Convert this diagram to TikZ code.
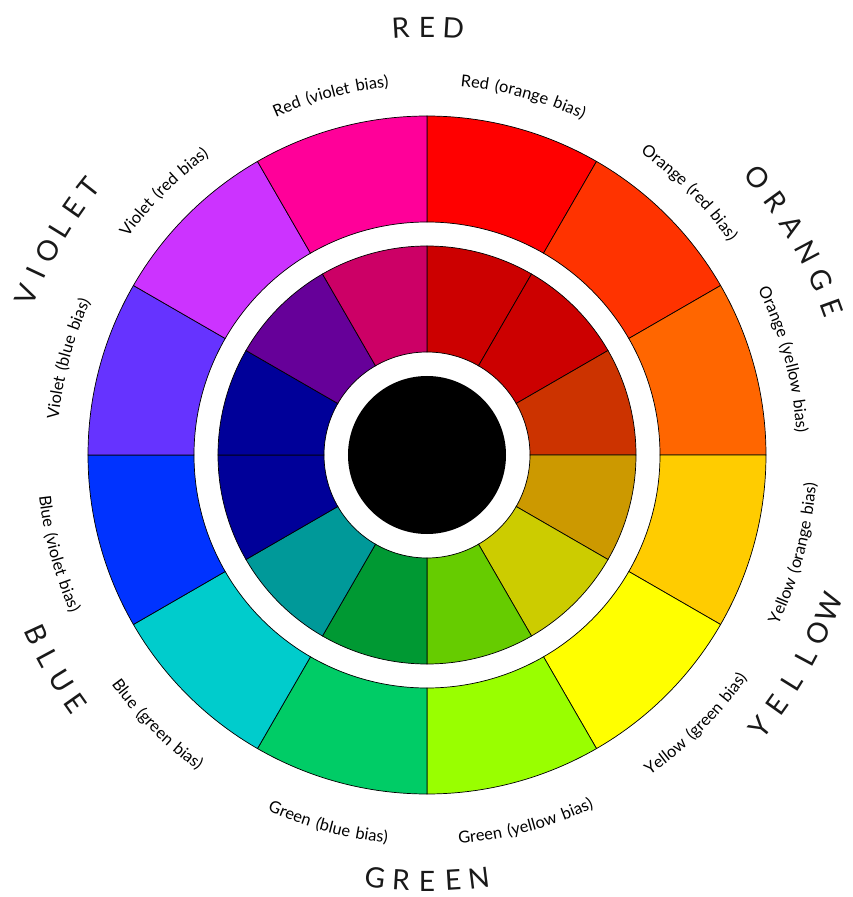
\documentclass[tikz,border=0pt]{standalone}
\usepackage{fontspec}
\setmainfont{Lato}
\newfontfamily\biasfont[LetterSpace=11]{Lato}
\usetikzlibrary{decorations.text}
% outer ring colours
\definecolor{cwRedO}{RGB}{255,0,0}
\definecolor{cwOrangeR}{RGB}{255,51,0}
\definecolor{cwOrangeY}{RGB}{255,102,0}
\definecolor{cwYellowO}{RGB}{255,204,0}
\definecolor{cwYellowG}{RGB}{255,255,0}
\definecolor{cwGreenY}{RGB}{153,255,0}
\definecolor{cwGreenB}{RGB}{0,204,102}
\definecolor{cwBlueG}{RGB}{0,204,204}
\definecolor{cwBlueV}{RGB}{0,51,255}
\definecolor{cwVioletB}{RGB}{102,51,255}
\definecolor{cwVioletR}{RGB}{204,51,255}
\definecolor{cwRedV}{RGB}{255,0,153}
% inner ring colours
\definecolor{shRedO}{RGB}{204,0,0}
\definecolor{shOrangeR}{RGB}{204,0,0}
\definecolor{shOrangeY}{RGB}{204,51,0}
\definecolor{shYellowO}{RGB}{204,153,0}
\definecolor{shYellowG}{RGB}{204,204,0}
\definecolor{shGreenY}{RGB}{102,204,0}
\definecolor{shGreenB}{RGB}{0,153,51}
\definecolor{shBlueG}{RGB}{0,153,153}
\definecolor{shBlueV}{RGB}{0,0,153}
\definecolor{shVioletB}{RGB}{0,0,153}
\definecolor{shVioletR}{RGB}{102,0,153}
\definecolor{shRedV}{RGB}{204,0,102}

\begin{document}
\begin{tikzpicture}[
    x=0.03cm, y=0.03cm,
    seg/.style={draw=black, line width=0.6pt, fill=#1},
    bigl/.style={font=\fontsize{24}{24}\selectfont, inner sep=0pt, anchor=center, text=black!90},
    lbl/.style={decorate, decoration={text along path, text align=center,
                text={|\biasfont\fontsize{14}{16}\selectfont|#1}}},
]
\useasboundingbox (-427,-442) rectangle (426,455);

% --- outer ring (pure hues) ---
\foreach \col [count=\i from 0] in {cwRedO,cwOrangeR,cwOrangeY,cwYellowO,cwYellowG,cwGreenY,
                                     cwGreenB,cwBlueG,cwBlueV,cwVioletB,cwVioletR,cwRedV}
  \filldraw[seg=\col] ({90-30*\i}:339) arc[start angle={90-30*\i}, delta angle=-30, radius=339]
      -- ({60-30*\i}:233) arc[start angle={60-30*\i}, delta angle=30, radius=233] -- cycle;

% --- inner ring (shades) ---
\foreach \col [count=\i from 0] in {shRedO,shOrangeR,shOrangeY,shYellowO,shYellowG,shGreenY,
                                     shGreenB,shBlueG,shBlueV,shVioletB,shVioletR,shRedV}
  \filldraw[seg=\col] ({90-30*\i}:209) arc[start angle={90-30*\i}, delta angle=-30, radius=209]
      -- ({60-30*\i}:103) arc[start angle={60-30*\i}, delta angle=30, radius=103] -- cycle;

% --- black centre ---
\fill[black] (0,0) circle[radius=79];

% --- bias labels, upper half (clockwise) ---
\path[lbl={Red (orange bias)}]    (115:370) arc[start angle=115, end angle=35, radius=370];
\path[lbl={Orange (red bias)}]    (85:370)  arc[start angle=85,  end angle=5,  radius=370];
\path[lbl={Orange (yellow bias)}] (55:370)  arc[start angle=55,  end angle=-25, radius=370];
\path[lbl={Red (violet bias)}]    (145:370) arc[start angle=145, end angle=65, radius=370];
\path[lbl={Violet (red bias)}]    (175:370) arc[start angle=175, end angle=95, radius=370];
\path[lbl={Violet (blue bias)}]   (205:370) arc[start angle=205, end angle=125, radius=370];

% --- bias labels, lower half (counter-clockwise) ---
\path[lbl={Yellow (orange bias)}] (-55:390)  arc[start angle=-55,  end angle=25,  radius=390];
\path[lbl={Yellow (green bias)}]  (-85:390)  arc[start angle=-85,  end angle=-5,  radius=390];
\path[lbl={Green (yellow bias)}]  (-115:390) arc[start angle=-115, end angle=-35, radius=390];
\path[lbl={Green (blue bias)}]    (-145:390) arc[start angle=-145, end angle=-65, radius=390];
\path[lbl={Blue (green bias)}]    (-175:390) arc[start angle=-175, end angle=-95, radius=390];
\path[lbl={Blue (violet bias)}]   (-205:390) arc[start angle=-205, end angle=-125, radius=390];

% --- primary / secondary names ---
\foreach \ch [count=\k from 0] in {R,E,D}
  \node[bigl, rotate={-3.55*(\k-1)}] (red\k) at ({90-3.55*(\k-1)}:428) {\ch};
\foreach \ch [count=\k from 0] in {O,R,A,N,G,E}
  \node[bigl, rotate={-60-4.0*(\k-2.5)}] (orange\k) at ({30-4.0*(\k-2.5)}:431) {\ch};
\foreach \ch [count=\k from 0] in {Y,E,L,L,O,W}
  \node[bigl, rotate={60+3.7*(\k-2.5)}] (yellow\k) at ({-30+3.7*(\k-2.5)}:430) {\ch};
\foreach \ch [count=\k from 0] in {G,R,E,E,N}
  \node[bigl, rotate={3.5*(\k-2)}] (green\k) at ({-90+3.5*(\k-2)}:426) {\ch};
\foreach \ch [count=\k from 0] in {B,L,U,E}
  \node[bigl, rotate={-60+3.5*(\k-1.5)}] (blue\k) at ({-150+3.5*(\k-1.5)}:430) {\ch};
\foreach \ch [count=\k from 0] in {V,I,O,L,E,T}
  \node[bigl, rotate={60-3.3*(\k-2.5)}] (violet\k) at ({150-3.3*(\k-2.5)}:431) {\ch};
\end{tikzpicture}
\end{document}
